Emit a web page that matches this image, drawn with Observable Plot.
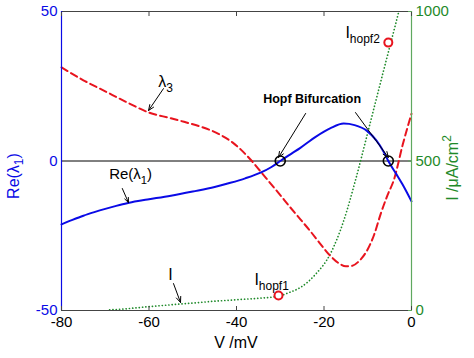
<!DOCTYPE html>
<html><head><meta charset="utf-8">
<script src="https://cdn.jsdelivr.net/npm/d3@7"></script>
<script src="https://cdn.jsdelivr.net/npm/@observablehq/plot@0.6"></script>
<style>
body{margin:0;background:#fff;}
#chart svg{display:block;}
</style></head><body><div id="chart"></div>
<script>
// ---- data ----
const vRe = [-80,-77.5,-75,-72.5,-70,-67.5,-65,-62.5,-60,-55,-50,-45,-41.4,-38,-34.5,-32,-30,-27.5,-25.4,-22,-18.5,-15.5,-13,-10.1,-8,-6.4,-5.3,-3.5,-2.1,0];
const re1 = [-21.2,-19.7,-18.3,-17.1,-16.0,-15.0,-14.1,-13.4,-12.8,-11.6,-10.2,-8.7,-7.3,-5.8,-3.9,-2.0,0,2.4,4.4,8.0,11.0,12.5,12.0,10.0,6.8,3.2,0,-4.3,-7.7,-13.5];

const vL3 = [-80,-75,-70,-65,-60,-55,-52,-48,-44,-41,-39,-36.5,-34.5,-32,-30,-28,-25.4,-23,-20.8,-18.5,-16.5,-15,-13.5,-12,-10,-8.5,-7,-5.5,-4,-2,0];
const lam3 = [31.3,27,23.3,19.6,16.2,14.3,13.1,11.4,9.0,6.3,3.8,0,-3.5,-7.9,-11.4,-15,-19.5,-23.7,-27.8,-31.8,-34.3,-35.2,-35,-33.5,-29.5,-24.5,-17.5,-11.5,-6.2,5.5,15.8];

const vI = [-69,-65,-60,-55,-50,-45,-40,-35,-30.4,-28,-25.4,-22,-18.5,-15.5,-12.8,-10,-8,-6,-4,-2.9];
const iVals = [2,6,13,19,25,31,36,41,48,60,77,120,191,300,436,595,710,824,937,1000];

const hopfV = [-30, -5.3];
const hopfRe = [0, 0];
const ihopfV = [-30.4, -5.3];
const ihopfI = [50, 896];

const xTicks = [-80,-60,-40,-20,0];
const yTicks = [-50,0,50];
const iTicks = [0,500,1000];

// annotation arrows (data coords: V, Re)
const arrowFromV = [-56.7,-66.1,-24.2,-12.8,-54.4];
const arrowFromY = [24.2,-9.2,15.9,16.2,-41.0];
const arrowToV   = [-60.1,-64.7,-30.4,-5.3,-52.8];
const arrowToY   = [16.9,-13.9,1.2,1.2,-47.3];

// text annotations
const labels = [
  {v:-57.8, y:24.6, main:"λ", sub:"3", size:16},
  {v:-69.0, y:-6.2, main:"Re(λ", sub:"1", tail:")", size:15},
  {v:-22.6, y:19.2, main:"Hopf Bifurcation", size:12.5, bold:true, anchor:"middle"},
  {v:-55.5, y:-40.0, main:"I", size:16},
  {v:-35.8, y:-41.6, main:"I", sub:"hopf1", size:16},
  {v:-15.0, y:41.0, main:"I", sub:"hopf2", size:16}
];

// ---- build ----
const BLUE = "#0a0ae6", RED = "#e8141e", GREEN = "#1f8a2a", GREENAX = "#5fa85f";
const iToY = I => I / 10 - 50;   // right axis (0..1000) onto left axis (-50..50)

const reData = vRe.map((v,i) => ({v, y: re1[i]}));
const l3Data = vL3.map((v,i) => ({v, y: lam3[i]}));
const iData = vI.map((v,i) => ({v, y: iToY(iVals[i])}));
const hopf = hopfV.map((v,i) => ({v, y: hopfRe[i]}));
const ihopf = ihopfV.map((v,i) => ({v, y: iToY(ihopfI[i])}));
const arrows = arrowFromV.map((v,i) => ({x1:v, y1:arrowFromY[i], x2:arrowToV[i], y2:arrowToY[i]}));

const chart = Plot.plot({
  width: 474, height: 358,
  marginLeft: 61, marginRight: 63, marginTop: 11, marginBottom: 48,
  style: {fontFamily: "'Liberation Sans', Arial, sans-serif", fontSize: "15px", background: "white", overflow: "visible"},
  x: {domain: [-80, 0]},
  y: {domain: [-50, 50]},
  marks: [
    Plot.ruleY([0], {stroke: "black", strokeWidth: 1}),
    Plot.line(iData, {x: "v", y: "y", stroke: GREEN, strokeWidth: 1.7, strokeDasharray: "0.1,3.2", strokeLinecap: "round", curve: "monotone-x"}),
    Plot.line(l3Data, {x: "v", y: "y", stroke: RED, strokeWidth: 2, strokeDasharray: "7,4", curve: "monotone-x"}),
    Plot.line(reData, {x: "v", y: "y", stroke: BLUE, strokeWidth: 2, curve: "monotone-x"}),
    Plot.frame({stroke: "#444", strokeWidth: 1}),
    Plot.ruleX([-80], {stroke: BLUE, strokeWidth: 1.2}),
    Plot.ruleX([0], {stroke: GREENAX, strokeWidth: 1.2}),
    Plot.axisX({anchor: "bottom", ticks: xTicks, tickFormat: d => String(d), tickSize: 0, tickPadding: 6, fill: "black", fontSize: 15, label: null}),
    Plot.axisX({anchor: "bottom", ticks: xTicks, tickSize: -4, text: null, stroke: "#444", label: null}),
    Plot.axisX({anchor: "top", ticks: xTicks, tickSize: -4, text: null, stroke: "#444", label: null}),
    Plot.axisY({anchor: "left", ticks: yTicks, tickFormat: d => String(d), tickSize: 0, tickPadding: 4, fill: BLUE, fontSize: 15, label: null}),
    Plot.axisY({anchor: "right", ticks: iTicks.map(iToY), tickFormat: d => String(Math.round((d + 50) * 10)), tickSize: 0, tickPadding: 4, fill: GREEN, fontSize: 15, label: null}),
    Plot.axisY({anchor: "right", ticks: iTicks.map(iToY), tickSize: -4, text: null, stroke: GREENAX, label: null}),
    Plot.arrow(arrows, {x1: "x1", y1: "y1", x2: "x2", y2: "y2", stroke: "black", strokeWidth: 1, headLength: 9, headAngle: 45}),
    Plot.dot(hopf, {x: "v", y: "y", r: 5, stroke: "black", strokeWidth: 1.6, fill: "none"}),
    Plot.dot(ihopf, {x: "v", y: "y", r: 4, stroke: RED, strokeWidth: 2, fill: "white"})
  ]
});
document.getElementById("chart").appendChild(chart);

// ---- texts with sub/superscripts, placed through Plot's scales ----
const sx = chart.scale("x"), sy = chart.scale("y");
const X = v => sx.apply ? sx.apply(v) : d3.scaleLinear(sx.domain, sx.range)(v);
const Y = v => sy.apply ? sy.apply(v) : d3.scaleLinear(sy.domain, sy.range)(v);
const svg = d3.select(chart);
const FONT = "'Liberation Sans', Arial, sans-serif";

for (const L of labels) {
  const t = svg.append("text")
    .attr("x", X(L.v)).attr("y", Y(L.y))
    .attr("font-family", FONT).attr("font-size", L.size)
    .attr("font-weight", L.bold ? "bold" : "normal")
    .attr("text-anchor", L.anchor || "start").attr("fill", "black");
  t.append("tspan").text(L.main);
  if (L.sub) t.append("tspan").attr("dy", L.size * 0.3).attr("font-size", L.size * 0.75).text(L.sub);
  if (L.tail) t.append("tspan").attr("dy", -L.size * 0.3).text(L.tail);
}

// axis titles
svg.append("text").attr("x", X(-40)).attr("y", 348)
  .attr("font-family", FONT).attr("font-size", 16).attr("text-anchor", "middle").attr("fill", "black").text("V /mV");

const lt = svg.append("text").attr("transform", "translate(19,176) rotate(-90)")
  .attr("font-family", FONT).attr("font-size", 16).attr("text-anchor", "middle").attr("fill", BLUE);
lt.append("tspan").text("Re(λ");
lt.append("tspan").attr("dy", 4).attr("font-size", 12).text("1");
lt.append("tspan").attr("dy", -4).text(")");

const rt = svg.append("text").attr("transform", "translate(458,168) rotate(-90)")
  .attr("font-family", FONT).attr("font-size", 16).attr("text-anchor", "middle").attr("fill", GREEN);
rt.append("tspan").text("I /μA/cm");
rt.append("tspan").attr("dy", -7).attr("font-size", 12).text("2");
</script>
</body></html>
